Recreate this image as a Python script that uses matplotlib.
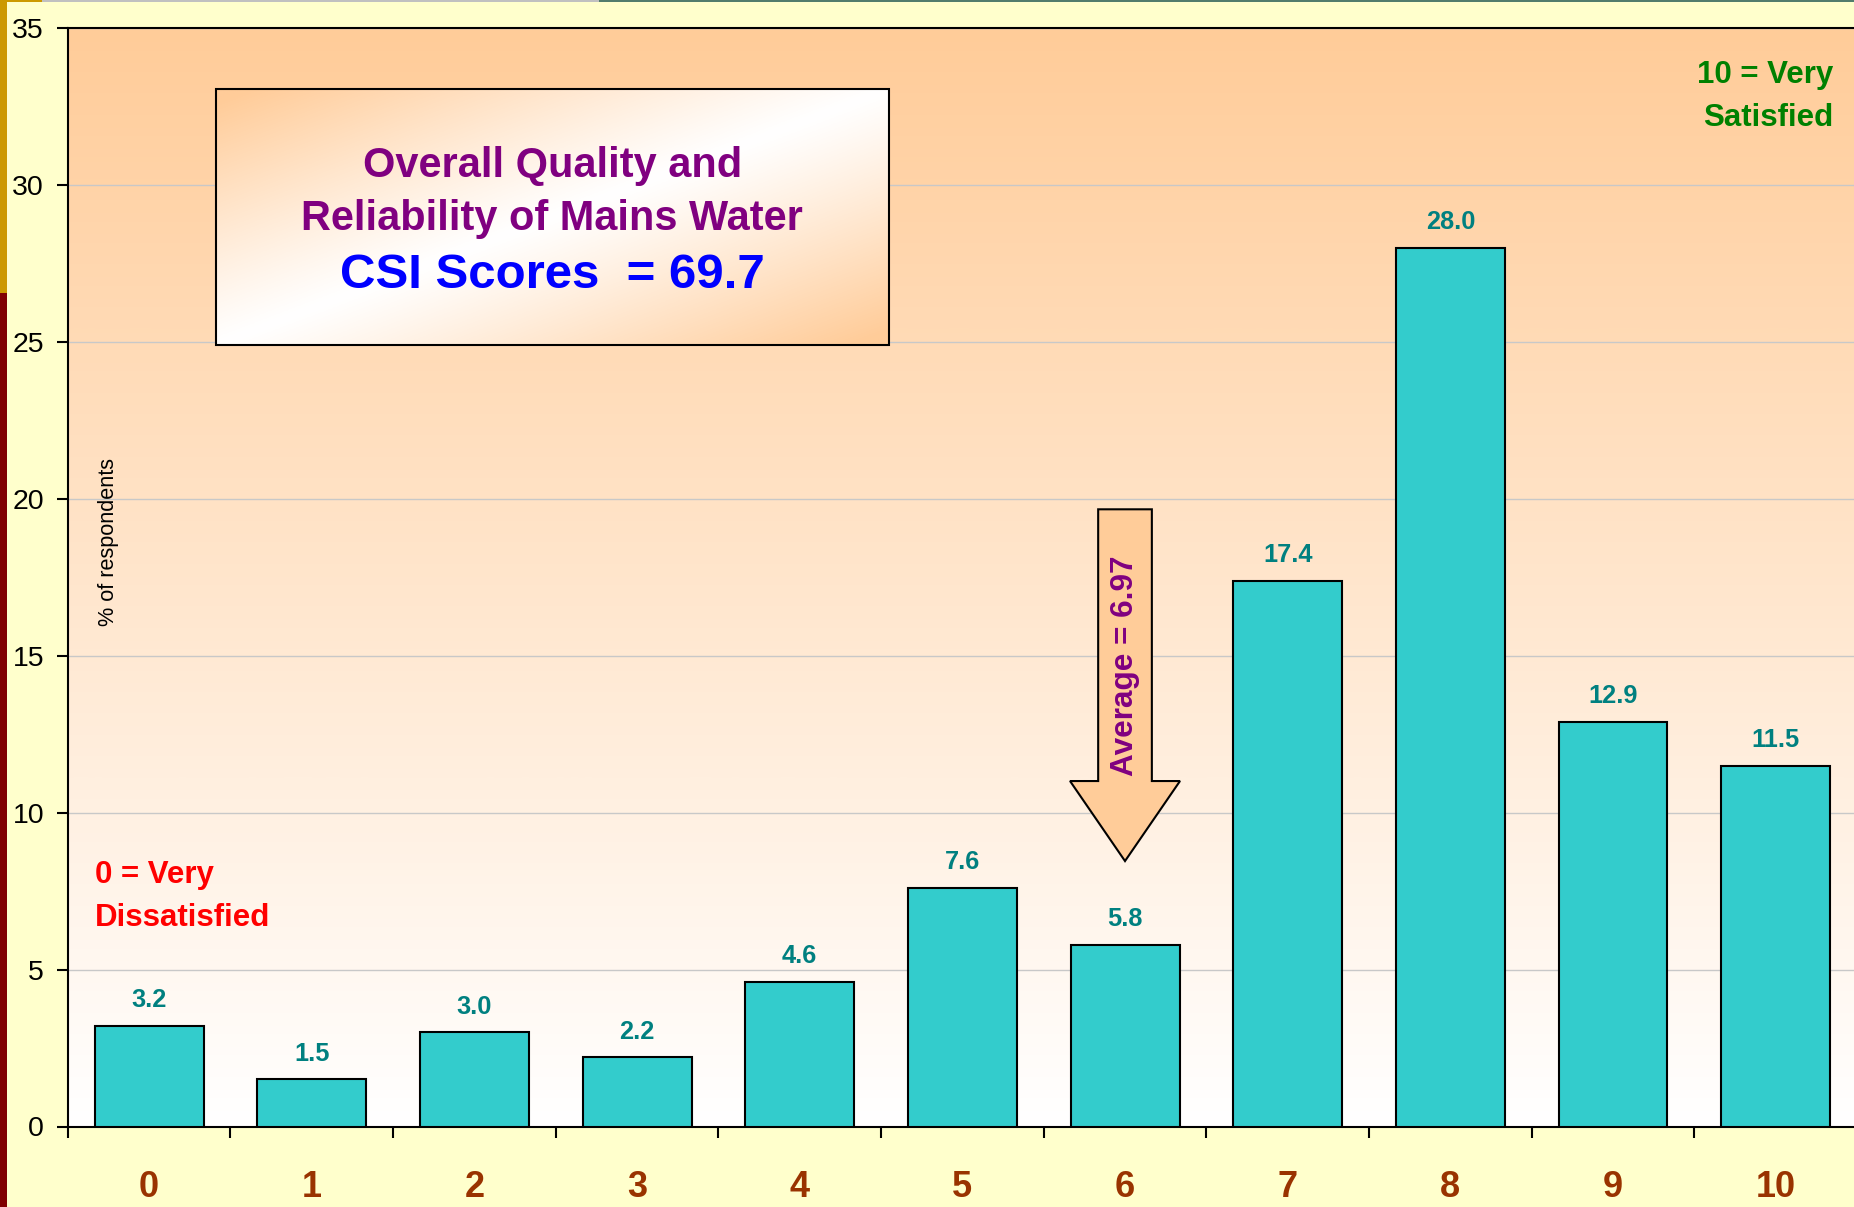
import matplotlib
matplotlib.use("Agg")
import matplotlib.pyplot as plt
import numpy as np
from matplotlib.patches import Rectangle, FancyArrow
from matplotlib.colors import LinearSegmentedColormap

# ---------------- data ----------------
scores = ["0", "1", "2", "3", "4", "5", "6", "7", "8", "9", "10"]
percent = [3.2, 1.5, 3.0, 2.2, 4.6, 7.6, 5.8, 17.4, 28.0, 12.9, 11.5]
value_labels = ["3.2", "1.5", "3.0", "2.2", "4.6", "7.6", "5.8", "17.4", "28.0", "12.9", "11.5"]
y_ticks = [0, 5, 10, 15, 20, 25, 30, 35]
title_lines = ["Overall Quality and", "Reliability of Mains Water"]
csi_text = "CSI Scores  = 69.7"
average_text = "Average = 6.97"
average_arrow_category = 6
y_label = "% of respondents"
low_anchor = ["0 = Very", "Dissatisfied"]
high_anchor = ["10 = Very", "Satisfied"]

FONT = "Liberation Sans"
PEACH = "#FFCC99"

W, H = 1854, 1207
fig = plt.figure(figsize=(W / 100, H / 100), dpi=100, facecolor="#FFFFCC")

# frame decorations of the slide
def fig_rect(x0, y0, w, h, color):
    fig.add_artist(Rectangle((x0 / W, 1 - (y0 + h) / H), w / W, h / H,
                             transform=fig.transFigure, color=color, lw=0, zorder=0))

fig_rect(0, 0, 7, 293, "#CC9900")
fig_rect(0, 293, 7, H - 293, "#800000")
fig_rect(0, 0, 42, 2, "#CC9900")
fig_rect(42, 0, 557, 2, "#C0C0C0")
fig_rect(599, 0, W - 599, 2, "#527C6C")

# axes (right edge runs just past the image edge, as in the reference)
ax_l, ax_r, ax_t, ax_b = 67.7, 1857.0, 28.3, 1126.5
ax = fig.add_axes([ax_l / W, 1 - ax_b / H, (ax_r - ax_l) / W, (ax_b - ax_t) / H])

x = np.arange(len(scores))
xmin, xmax, ymin, ymax = -0.5, len(scores) - 0.5, 0, 35

# vertical gradient background (white bottom -> peach top)
bg_cmap = LinearSegmentedColormap.from_list("bg", ["#FFFFFF", PEACH])
grad = np.linspace(0, 1, 256).reshape(-1, 1)
ax.imshow(grad, origin="lower", extent=[xmin, xmax, ymin, ymax], cmap=bg_cmap,
          aspect="auto", zorder=0, interpolation="bicubic")

ax.set_axisbelow(True)
ax.grid(axis="y", color="#C8C8C8", lw=1.0, zorder=1)

ax.bar(x, percent, width=0.67, color="#33CCCC", edgecolor="black", linewidth=1.5, zorder=3)

for xi, v, lab in zip(x, percent, value_labels):
    ax.annotate(lab, (xi, v), xytext=(0, 13.5), textcoords="offset points",
                ha="center", va="baseline", fontsize=18.3, fontweight="bold",
                color="#008080", family=FONT, zorder=4)

# ticks
ax.set_xticks(np.arange(xmin, xmax + 0.01, 1.0))
ax.set_xticklabels([])
ax.set_xticks(x, minor=True)
ax.set_xticklabels(scores, minor=True, fontsize=26, fontweight="bold",
                   color="#993300", family=FONT)
ax.tick_params(axis="x", which="minor", length=0, pad=31)
ax.tick_params(axis="x", which="major", length=8, width=1.5, direction="out", color="black")
ax.set_yticks(y_ticks)
ax.set_yticklabels([str(t) for t in y_ticks], fontsize=20.5, family=FONT)
ax.tick_params(axis="y", length=8, width=1.5, direction="out", pad=9)

for s in ["left", "bottom", "top", "right"]:
    ax.spines[s].set_linewidth(1.5)
    ax.spines[s].set_color("black")

ax.set_xlim(xmin, xmax)
ax.set_ylim(ymin, ymax)

def to_data(u, v):
    return xmin + (xmax - xmin) * u, ymin + (ymax - ymin) * v

# title box with diagonal gradient
bx0, by0 = to_data(0.08288, 0.7116)
bx1, by1 = to_data(0.4588, 0.9445)
uu, vv = np.meshgrid(np.linspace(0, 1, 300), np.linspace(0, 1, 200))
t = np.clip(np.abs(uu - vv) * 1.05, 0, 1) ** 1.1
box_cmap = LinearSegmentedColormap.from_list("box", ["#FFFFFF", PEACH])
ax.imshow(t, origin="lower", extent=[bx0, bx1, by0, by1], cmap=box_cmap,
          vmin=0, vmax=1, aspect="auto", zorder=6, interpolation="bicubic")
ax.add_patch(Rectangle((bx0, by0), bx1 - bx0, by1 - by0, fill=False,
                       edgecolor="black", lw=1.5, zorder=7))
ax.set_xlim(xmin, xmax)
ax.set_ylim(ymin, ymax)

tc = 0.2709
ax.text(tc, 0.8649, title_lines[0], transform=ax.transAxes, ha="center", va="baseline",
        fontsize=29.9, fontweight="bold", color="#800080", family=FONT, zorder=8)
ax.text(tc, 0.8163, title_lines[1], transform=ax.transAxes, ha="center", va="baseline",
        fontsize=29.9, fontweight="bold", color="#800080", family=FONT, zorder=8)
ax.text(tc, 0.7633, csi_text, transform=ax.transAxes, ha="center", va="baseline",
        fontsize=35.5, fontweight="bold", color="#0000FF", family=FONT, zorder=8)

# y label inside the plot
ax.text(0.0229, 0.5322, y_label, transform=ax.transAxes, rotation=90, ha="center",
        va="center", fontsize=15.6, color="black", family=FONT, zorder=8)

# scale anchors
ax.text(0.01503, 0.2215, low_anchor[0], transform=ax.transAxes, ha="left", va="baseline",
        fontsize=22.5, fontweight="bold", color="#FF0000", family=FONT, zorder=8)
ax.text(0.01503, 0.1826, low_anchor[1], transform=ax.transAxes, ha="left", va="baseline",
        fontsize=22.5, fontweight="bold", color="#FF0000", family=FONT, zorder=8)
ax.text(0.9866, 0.9502, high_anchor[0], transform=ax.transAxes, ha="right", va="baseline",
        fontsize=22.5, fontweight="bold", color="#008000", family=FONT, zorder=8)
ax.text(0.9866, 0.9110, high_anchor[1], transform=ax.transAxes, ha="right", va="baseline",
        fontsize=22.5, fontweight="bold", color="#008000", family=FONT, zorder=8)

# average arrow
arrow_top, arrow_tip, head_base = 19.67, 8.46, 11.01
ax.add_patch(FancyArrow(average_arrow_category, arrow_top, 0, arrow_tip - arrow_top,
                        width=0.33, head_width=0.676, head_length=head_base - arrow_tip,
                        length_includes_head=True, facecolor=PEACH, edgecolor="black",
                        lw=1.5, zorder=5))
ax.text(average_arrow_category, 14.69, average_text, rotation=90, ha="center", va="center",
        fontsize=22.7, fontweight="bold", color="#800080", family=FONT, zorder=6)

fig.savefig("out.png", dpi=100, facecolor=fig.get_facecolor())
